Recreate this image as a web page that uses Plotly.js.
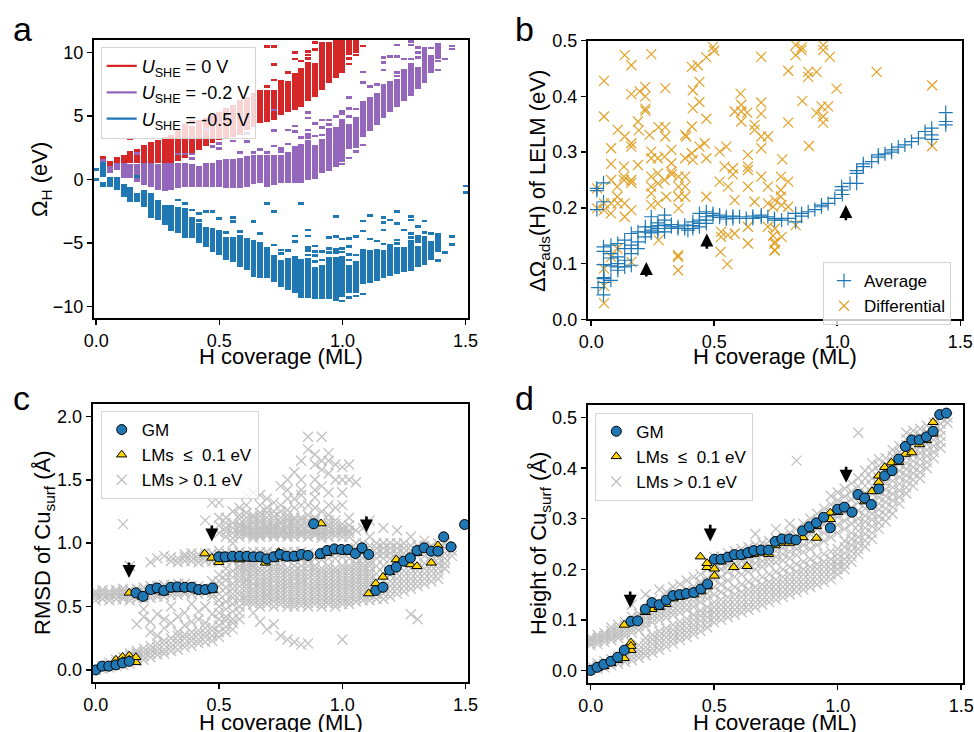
<!DOCTYPE html>
<html><head><meta charset="utf-8">
<script src="https://cdn.plot.ly/plotly-3.0.1.min.js"></script>
<style>html,body{margin:0;padding:0;background:#fff}#chart{width:974px;height:732px}</style>
</head><body><div id="chart"></div>
<script>
// ---------- Panel a : Omega_H distributions per H coverage column (coverage = k/36 ML) ----------
const cellSites = 36;
const redCols = [1,2,3,4,5,6,7,8,9,10,11,12,13,14,15,16,17,18,19,20,21,22,23,24,25,26,27,28,29,30,31,32,33,34,35,36,37,38];
const redLo = [1.6,1.06,1.2,1.22,1.27,1.33,1.33,1.33,1.33,1.33,1.33,1.48,1.67,1.93,2.32,2.64,2.9,3.1,3.24,3.37,3.5,3.9,4.1,4.42,4.55,4.68,5.07,5.33,5.47,5.73,6.17,6.51,7.04,7.56,7.96,8.61,9.79,9.97];
const redHi = [1.85,1.46,1.75,1.93,2.24,2.4,2.71,2.98,3.11,3.32,3.5,3.95,4.21,4.21,4.68,4.81,5.07,5.34,5.6,5.86,6.25,6.5,6.78,7.04,7.04,7.04,7.82,7.77,8.4,8.79,9.27,9.14,10.84,10.84,11,11,11,11];
const redDashK = [5,13,14,25,26,25,26,26,28,29,29,30,31,31,31,32,32,36,37,37,38,39];
const redDashY = [3.19,4.29,4.6,7.3,7.82,10.45,10.45,9.06,8.4,9.48,9.97,9.32,10.05,9.79,9.53,10.76,10.24,8.48,9.53,9.08,9.79,10.5];

const purCols = [1,2,3,4,5,6,7,8,9,10,11,12,13,14,15,16,17,18,19,20,21,22,23,24,25,26,27,28,29,30,31,32,33,34,35,36,37,38,39,40,41,42,43,44,45,46,47,48,49,50];
const purLo = [1.35,0.49,0.75,0.1,0.1,-0.17,-0.43,-0.56,-0.82,-0.88,-0.85,-0.7,-0.56,-0.56,-0.56,-0.56,-0.56,-0.56,-0.69,-0.69,-0.69,-0.56,-0.35,-0.3,-0.56,-0.43,-0.25,-0.25,-0.25,-0.25,-0.04,0.01,0.54,0.7,1.01,1.4,2.37,2.45,3.37,3.84,4.31,4.84,5.34,5.73,6.2,6.59,7.12,7.62,8.35,9.48];
const purHi = [1.6,1.06,1.27,1.27,1.22,1.22,1.27,1.27,1.22,1.33,1.33,1.27,1.27,1.22,1.1,1.33,1.33,1.53,1.6,1.6,1.67,1.85,1.93,1.93,1.93,1.93,1.93,2.19,2.64,2.79,3.11,2.71,3.19,4.02,4.1,4.73,4.37,4.89,6.17,6.46,6.83,7.51,7.75,7.88,8.69,9.14,8.82,10.39,9.82,10.76];
const purDashK = [6,12,13,14,14,16,17,18,18,20,21,22,22,23,23,24,25,26,26,26,27,27,28,28,29,29,30,31,31,31,31,31,32,32,33,33,33,34,34,35,36,36,36,37,37,37,37,38,38,39,39,39,40,41,42,42,42,43,44,44,44,44,45,46,46,46,47,47,47,48,49,50,50,51,52,52];
const purDashY = [2.06,2.0,2.0,2.0,1.67,3.95,2.58,2.84,2.45,3.03,2.11,2.98,3.63,2.11,1.8,2.37,2.11,2.64,3.84,5.47,2.45,2.2,3.89,2.79,4.21,3.76,3.32,3.89,3.55,3.32,5.26,4.84,4.42,3.42,4.1,3.5,4.68,4.68,4.31,4.94,5.15,5.34,1.22,4.94,5.6,6.44,1.69,5.55,2.19,7.6,8.45,2.71,7.3,7.48,8.61,9.19,9.58,9.66,8.4,8.14,9.66,10.58,9.48,9.48,10.58,10.84,9.61,9.97,10.37,9.82,10.34,9.32,8.61,9.48,10.5,10.26];

const bluCols = purCols;
const bluLo = [0.22,-0.56,-0.82,-1.35,-1.74,-1.74,-2.14,-3.05,-3.18,-3.58,-4.02,-4.23,-4.62,-4.62,-5.0,-5.28,-5.67,-5.94,-6.33,-6.46,-6.85,-7.11,-7.64,-7.77,-7.77,-8.03,-8.43,-8.69,-8.9,-9.29,-9.29,-9.42,-9.37,-9.42,-9.53,-9.26,-8.95,-8.9,-8.24,-8.11,-7.95,-7.74,-7.59,-7.43,-7.27,-7.17,-6.85,-6.72,-6.33,-5.46];
const bluHi = [1.4,0.22,0.22,-0.35,-0.56,-1.1,-0.82,-1.03,-1.61,-2.0,-2.0,-2.14,-2.27,-2.92,-3.44,-3.71,-3.84,-3.97,-4.5,-4.5,-4.36,-4.62,-4.75,-4.89,-5.28,-5.94,-6.33,-6.2,-6.0,-6.25,-6.14,-6.85,-6.72,-6.07,-6.07,-6.02,-6.72,-6.38,-5.49,-5.54,-5.46,-5.54,-5.07,-5.28,-5.28,-4.76,-5.23,-4.44,-4.84,-4.23];
const bluDashK = [0,0,1,1,6,12,13,13,14,15,15,16,17,18,19,20,20,21,23,24,25,26,26,27,27,28,29,29,30,31,31,31,31,31,32,32,32,32,33,33,34,34,34,35,35,35,35,36,36,36,36,37,37,37,37,37,38,38,38,39,39,39,40,40,41,42,42,42,42,43,44,44,44,44,45,46,46,46,46,47,47,47,47,48,48,49,50,50,51,52,52,54,54];
const bluDashY = [0.8,0.0,-0.3,-0.5,0.22,-1.61,-1.87,-2.53,-2.4,-3.24,-2.66,-2.53,-2.53,-3.05,-4.18,-3.31,-3.0,-4.1,-3.31,-4.23,-1.9,-5.15,-2.5,-5.8,-5.54,-5.6,-4.89,-4.44,-1.87,-3.97,-4.44,-5.36,-5.6,-5.94,-5.23,-5.67,-5.98,-6.46,-5.67,-6.33,-4.57,-5.41,-5.75,-2.92,-4.5,-5.49,-5.75,-4.68,-5.41,-5.7,-9.55,-4.62,-5.28,-5.9,-6.33,-9.29,-4.5,-5.93,-9.16,-3.26,-4.05,-9.0,-2.84,-4.68,-4.84,-5.07,-3.97,-3.39,-3.0,-3.18,-2.53,-3.47,-4.76,-5.02,-3.97,-2.92,-3.18,-4.23,-4.57,-3.71,-4.5,-4.7,-4.89,-3.26,-4.18,-4.26,-5.6,-6.38,-5.75,-4.5,-5.1,-0.51,-1.03];
const seriesNames = ['<i>U</i><sub>SHE</sub> = 0 V','<i>U</i><sub>SHE</sub> = -0.2 V','<i>U</i><sub>SHE</sub> = -0.5 V'];

// ---------- Panel b ----------
const avgCov = [0.023,0.023,0.023,0.05,0.05,0.028,0.05,0.05,0.05,0.05,0.05,0.052,0.052,0.08,0.08,0.08,0.08,0.08,0.108,0.108,0.108,0.108,0.108,0.136,0.136,0.136,0.136,0.163,0.163,0.163,0.163,0.19,0.19,0.19,0.22,0.22,0.22,0.244,0.244,0.244,0.244,0.271,0.271,0.271,0.271,0.298,0.298,0.298,0.298,0.298,0.326,0.326,0.353,0.353,0.38,0.38,0.393,0.413,0.413,0.413,0.44,0.44,0.44,0.44,0.468,0.468,0.468,0.468,0.495,0.495,0.522,0.522,0.549,0.549,0.576,0.576,0.603,0.63,0.657,0.657,0.691,0.691,0.718,0.745,0.745,0.774,0.8,0.831,0.831,0.855,0.855,0.882,0.909,0.936,0.936,0.963,0.99,1.018,1.018,1.021,1.052,1.079,1.079,1.079,1.106,1.106,1.14,1.167,1.167,1.194,1.221,1.221,1.248,1.275,1.302,1.33,1.357,1.384,1.384,1.384,1.441,1.441,1.441];
const avgVal = [0.235,0.231,0.197,0.245,0.211,0.057,0.13,0.122,0.098,0.073,0.044,0.066,0.075,0.133,0.118,0.096,0.07,0.11,0.136,0.112,0.088,0.1,0.094,0.142,0.127,0.106,0.094,0.154,0.133,0.118,0.097,0.157,0.139,0.127,0.148,0.157,0.166,0.184,0.166,0.155,0.16,0.173,0.163,0.157,0.168,0.178,0.169,0.157,0.187,0.163,0.166,0.17,0.166,0.163,0.169,0.163,0.16,0.175,0.163,0.168,0.19,0.178,0.166,0.172,0.184,0.172,0.193,0.178,0.19,0.186,0.187,0.183,0.184,0.18,0.181,0.185,0.184,0.181,0.181,0.185,0.187,0.183,0.184,0.181,0.178,0.178,0.181,0.175,0.19,0.19,0.185,0.193,0.197,0.202,0.205,0.208,0.217,0.232,0.238,0.224,0.244,0.244,0.267,0.262,0.274,0.279,0.283,0.291,0.295,0.297,0.304,0.3,0.309,0.313,0.319,0.325,0.337,0.343,0.331,0.323,0.371,0.355,0.349];
const diffCov = [0.136,0.244,0.163,0.052,0.052,0.163,0.197,0.22,0.22,0.22,0.22,0.301,0.19,0.108,0.136,0.163,0.163,0.193,0.237,0.274,0.301,0.301,0.081,0.081,0.133,0.133,0.133,0.163,0.163,0.19,0.081,0.106,0.106,0.081,0.052,0.052,0.024,0.08,0.108,0.136,0.136,0.163,0.244,0.244,0.244,0.244,0.244,0.244,0.271,0.271,0.271,0.271,0.298,0.298,0.305,0.326,0.326,0.326,0.355,0.355,0.355,0.355,0.382,0.382,0.382,0.382,0.382,0.409,0.409,0.409,0.433,0.468,0.495,0.5,0.413,0.44,0.44,0.468,0.413,0.386,0.44,0.413,0.468,0.468,0.522,0.522,0.542,0.549,0.576,0.576,0.556,0.583,0.528,0.528,0.556,0.583,0.526,0.553,0.637,0.637,0.637,0.61,0.61,0.61,0.583,0.634,0.664,0.664,0.691,0.691,0.691,0.691,0.718,0.691,0.718,0.691,0.607,0.637,0.664,0.718,0.739,0.745,0.745,0.637,0.637,0.718,0.739,0.461,0.327,0.353,0.353,0.353,0.274,0.163,0.052,0.052,0.052,0.081,0.106,0.024,0.831,0.855,0.831,0.855,0.943,0.943,0.97,0.801,0.882,0.882,0.916,0.997,1.16,0.858,0.936,0.963,0.916,0.943,0.943,0.801,0.885,0.777,0.771,0.801,0.771,0.771,0.747,0.774,0.801,0.747,0.774,0.747,0.747,0.831,1.386,1.386];
const diffVal = [0.474,0.476,0.456,0.428,0.364,0.404,0.409,0.417,0.4,0.378,0.374,0.415,0.355,0.34,0.328,0.316,0.31,0.339,0.331,0.345,0.345,0.328,0.307,0.279,0.274,0.256,0.25,0.25,0.245,0.277,0.25,0.238,0.22,0.208,0.208,0.196,0.199,0.19,0.208,0.208,0.184,0.196,0.301,0.289,0.256,0.238,0.226,0.205,0.289,0.262,0.244,0.208,0.292,0.25,0.22,0.304,0.28,0.265,0.256,0.238,0.22,0.199,0.256,0.238,0.22,0.331,0.289,0.453,0.346,0.298,0.456,0.47,0.489,0.482,0.411,0.426,0.39,0.36,0.379,0.328,0.31,0.286,0.289,0.22,0.301,0.247,0.274,0.31,0.271,0.26,0.238,0.214,0.157,0.148,0.151,0.154,0.121,0.099,0.295,0.274,0.268,0.373,0.355,0.385,0.373,0.371,0.349,0.34,0.389,0.369,0.328,0.307,0.328,0.256,0.238,0.471,0.405,0.238,0.211,0.208,0.202,0.124,0.136,0.136,0.166,0.166,0.15,0.316,0.26,0.112,0.088,0.115,0.142,0.103,0.091,0.029,0.06,0.112,0.127,0.235,0.492,0.488,0.474,0.483,0.492,0.483,0.471,0.446,0.444,0.435,0.444,0.414,0.444,0.392,0.382,0.382,0.37,0.364,0.353,0.353,0.311,0.287,0.256,0.247,0.232,0.22,0.214,0.205,0.202,0.163,0.148,0.139,0.124,0.169,0.42,0.311];
const bArrowCov = [0.224,0.47,1.035];
const bArrowFrom = [0.074,0.124,0.175];
const bArrowTo = [0.103,0.154,0.205];

// ---------- Panel c : RMSD ----------
const cGMcov = [0,0.026,0.053,0.082,0.109,0.136,0.163,0.192,0.222,0.249,0.276,0.305,0.332,0.361,0.39,0.418,0.444,0.474,0.499,0.525,0.555,0.584,0.613,0.64,0.667,0.694,0.722,0.748,0.775,0.805,0.834,0.861,0.884,0.911,0.938,0.968,0.996,1.023,1.053,1.08,1.107,1.136,1.165,1.192,1.219,1.249,1.276,1.303,1.332,1.361,1.388,1.411,1.441,1.496];
const cGMval = [0,0.03,0.03,0.04,0.055,0.068,0.608,0.58,0.634,0.647,0.626,0.652,0.655,0.652,0.652,0.634,0.634,0.647,0.892,0.892,0.897,0.897,0.897,0.892,0.892,0.876,0.892,0.911,0.897,0.897,0.911,0.903,1.153,0.918,0.942,0.955,0.95,0.95,0.918,0.963,0.911,0.626,0.652,0.787,0.811,0.858,0.884,0.942,0.963,0.937,0.937,1.05,0.971,1.147];
const cLMcov = [0.026,0.053,0.082,0.082,0.109,0.109,0.136,0.136,0.163,0.163,0.136,0.19,0.222,0.249,0.276,0.305,0.332,0.361,0.39,0.418,0.444,0.474,0.442,0.471,0.499,0.525,0.555,0.584,0.613,0.64,0.688,0.722,0.742,0.775,0.805,0.834,0.914,0.911,0.938,0.968,1.023,1.08,1.107,1.136,1.165,1.192,1.219,1.251,1.276,1.303,1.303,1.361,1.388,1.388];
const cLMval = [0.016,0.03,0.05,0.08,0.103,0.07,0.113,0.08,0.06,0.1,0.608,0.576,0.62,0.63,0.61,0.635,0.64,0.638,0.64,0.62,0.62,0.63,0.918,0.884,0.85,0.875,0.88,0.87,0.88,0.875,0.845,0.875,0.929,0.88,0.88,0.9,1.155,0.9,0.92,0.935,0.93,0.94,0.603,0.682,0.734,0.771,0.871,0.845,0.832,0.818,0.92,0.845,0.982,0.94];
// grey LMs > 0.1 eV, listed per coverage column k (coverage = k/36)
const cGreyCols = [
 [0.0,0.01,0.55,0.58,0.6,0.62],
 [0.01,0.03,0.56,0.59,0.61,0.63],
 [0.02,0.04,0.06,0.55,0.58,0.6,0.62],
 [0.03,0.06,0.08,0.56,0.59,0.61,0.63],
 [0.04,0.07,0.1,0.56,0.58,0.6,0.62,0.64,1.15],
 [0.05,0.08,0.11,0.13,0.55,0.58,0.6,0.63,0.82],
 [0.07,0.1,0.13,0.15,0.36,0.56,0.59,0.61,0.64],
 [0.08,0.11,0.14,0.17,0.42,0.48,0.57,0.6,0.62,0.65],
 [0.1,0.13,0.16,0.19,0.3,0.38,0.57,0.6,0.63,0.66,0.85],
 [0.12,0.15,0.18,0.21,0.27,0.44,0.58,0.6,0.63,0.66,0.88],
 [0.13,0.16,0.2,0.23,0.33,0.4,0.58,0.61,0.64,0.67,0.9],
 [0.15,0.18,0.21,0.25,0.37,0.5,0.59,0.62,0.65,0.67,0.86,0.89],
 [0.16,0.2,0.23,0.27,0.3,0.42,0.59,0.62,0.65,0.68,0.85,0.88],
 [0.18,0.21,0.25,0.28,0.35,0.45,0.6,0.62,0.65,0.68,0.86,0.89,0.91],
 [0.19,0.23,0.26,0.3,0.38,0.52,0.6,0.63,0.66,0.86,0.89,0.92],
 [0.21,0.24,0.28,0.31,0.4,0.46,0.6,0.63,0.66,0.85,0.88,0.91],
 [0.22,0.26,0.29,0.33,0.37,0.5,0.61,0.64,0.86,0.89,0.92,1.18],
 [0.23,0.27,0.31,0.34,0.44,0.58,0.61,0.64,0.7,0.86,0.89,0.92,1.32],
 [0.26,0.3,0.35,0.4,0.45,0.5,0.55,0.6,0.66,0.7,0.75,0.85,0.88,0.91,0.94,1.08,1.14,1.2,1.32],
 [0.3,0.34,0.39,0.42,0.48,0.54,0.6,0.65,0.71,0.75,0.8,0.86,0.89,0.92,1.05,1.09,1.12,1.16,1.2],
 [0.32,0.37,0.4,0.46,0.52,0.57,0.6,0.64,0.68,0.73,0.78,0.86,0.89,0.92,1.0,1.04,1.08,1.12,1.16,1.25],
 [0.4,0.45,0.5,0.55,0.59,0.62,0.66,0.7,0.73,0.76,0.79,0.82,0.87,0.9,0.93,1.05,1.08,1.1,1.13,1.15,1.19,1.22,1.28],
 [0.52,0.55,0.58,0.61,0.64,0.67,0.7,0.72,0.75,0.78,0.8,0.83,0.86,0.89,0.92,1.06,1.08,1.1,1.12,1.14,1.17,1.2,1.24,1.3,1.38],
 [0.45,0.52,0.55,0.58,0.61,0.64,0.68,0.72,0.75,0.78,0.81,0.83,0.87,0.9,0.93,1.04,1.06,1.08,1.1,1.12,1.15,1.17,1.2,1.22,1.4],
 [0.38,0.5,0.53,0.56,0.59,0.62,0.65,0.68,0.71,0.74,0.77,0.8,0.87,0.9,0.93,1.05,1.07,1.09,1.11,1.13,1.16,1.18,1.21,1.24,1.3,1.38],
 [0.32,0.52,0.55,0.58,0.6,0.63,0.66,0.69,0.72,0.75,0.78,0.82,0.87,0.9,0.93,1.06,1.08,1.1,1.12,1.14,1.17,1.2,1.24,1.28,1.35],
 [0.36,0.5,0.54,0.57,0.6,0.63,0.66,0.7,0.73,0.76,0.79,0.82,0.86,0.89,0.92,1.05,1.07,1.09,1.11,1.13,1.15,1.18,1.21,1.25,1.32],
 [0.27,0.52,0.55,0.58,0.61,0.64,0.67,0.7,0.73,0.76,0.79,0.82,0.86,0.89,0.92,1.06,1.08,1.1,1.12,1.15,1.17,1.2,1.25,1.3,1.45],
 [0.24,0.5,0.53,0.56,0.59,0.62,0.65,0.68,0.71,0.74,0.77,0.8,0.87,0.9,0.93,1.05,1.07,1.09,1.12,1.14,1.17,1.19,1.22,1.26,1.35,1.42,1.5],
 [0.22,0.5,0.53,0.56,0.59,0.62,0.65,0.68,0.72,0.75,0.78,0.82,0.87,0.9,0.93,1.05,1.08,1.1,1.13,1.15,1.18,1.2,1.28,1.35,1.56],
 [0.2,0.51,0.54,0.57,0.6,0.63,0.66,0.69,0.72,0.75,0.78,0.82,0.87,0.9,0.93,1.06,1.08,1.1,1.13,1.15,1.18,1.2,1.3,1.38,1.42,1.5,1.65],
 [0.21,0.5,0.53,0.56,0.59,0.62,0.65,0.68,0.72,0.75,0.78,0.82,0.86,0.89,0.92,1.05,1.08,1.1,1.13,1.15,1.18,1.22,1.3,1.74,1.84],
 [0.52,0.55,0.58,0.61,0.64,0.67,0.7,0.73,0.76,0.79,0.82,0.88,0.91,1.06,1.08,1.1,1.13,1.15,1.18,1.2,1.28,1.36,1.42,1.5,1.62,1.7],
 [0.5,0.53,0.56,0.59,0.62,0.65,0.68,0.71,0.74,0.77,0.8,0.87,0.9,1.04,1.06,1.08,1.1,1.12,1.15,1.17,1.25,1.45,1.58,1.65,1.84],
 [0.52,0.55,0.58,0.61,0.64,0.67,0.7,0.73,0.76,0.79,0.82,0.88,0.92,1.05,1.08,1.1,1.13,1.15,1.18,1.22,1.3,1.4,1.55,1.65,1.71],
 [0.5,0.53,0.56,0.59,0.62,0.65,0.68,0.71,0.74,0.77,0.8,0.88,0.92,1.06,1.09,1.12,1.15,1.18,1.28,1.5,1.62],
 [0.24,0.52,0.55,0.58,0.61,0.64,0.67,0.7,0.73,0.76,0.79,0.82,0.89,0.93,1.05,1.08,1.1,1.12,1.15,1.3,1.4,1.5,1.6],
 [0.52,0.55,0.58,0.61,0.64,0.67,0.7,0.73,0.76,0.79,0.82,0.88,0.92,1.05,1.08,1.1,1.14,1.2,1.5,1.62],
 [0.54,0.57,0.6,0.63,0.66,0.69,0.72,0.75,0.78,0.81,0.84,0.88,0.92,0.96,1.0,1.1,1.48],
 [0.55,0.58,0.6,0.63,0.66,0.69,0.72,0.75,0.78,0.81,0.84,0.88,0.92,0.96,1.0,1.12],
 [0.55,0.58,0.6,0.63,0.66,0.69,0.72,0.75,0.78,0.82,0.85,0.9,0.94,0.98,1.05,1.18],
 [0.56,0.6,0.65,0.7,0.76,0.82,0.88,0.92,0.96,1.0],
 [0.56,0.6,0.65,0.7,0.76,0.82,0.88,0.92,0.96,1.0,1.12],
 [0.58,0.62,0.66,0.7,0.75,0.88,0.92,0.96,1.0],
 [0.6,0.64,0.68,0.72,0.76,0.88,0.92,0.96,1.0,1.1],
 [0.62,0.66,0.7,0.74,0.78,0.88,0.92,0.96,1.0],
 [0.44,0.64,0.68,0.72,0.76,0.8,0.9,0.94,0.98,1.05],
 [0.4,0.66,0.7,0.74,0.78,0.82,0.9,0.94,0.98],
 [0.68,0.72,0.76,0.8,0.84,0.9,0.94,0.98,1.02],
 [0.7,0.74,0.78,0.82,0.86,0.9,0.94,0.98],
 [0.72,0.76,0.8,0.84,0.88,0.92,0.96,1.0],
 [0.8,0.84,0.88,0.92,0.96,1.0],
 [0.9,0.94]
];
const cArrowCov = [0.135,0.471,1.098];
const cArrowFrom = [0.86,1.152,1.223];
const cArrowTo = [0.726,1.013,1.084];

// ---------- Panel d : height ----------
const dGMcov = [0,0.026,0.053,0.082,0.109,0.136,0.163,0.19,0.221,0.248,0.278,0.306,0.333,0.36,0.387,0.417,0.446,0.473,0.501,0.528,0.555,0.582,0.609,0.636,0.66,0.69,0.72,0.747,0.774,0.804,0.831,0.858,0.885,0.914,0.943,0.97,1.0,1.027,1.058,1.082,1.109,1.136,1.166,1.19,1.22,1.247,1.274,1.3,1.33,1.359,1.386,1.413,1.44];
const dGMval = [0,0.006,0.012,0.018,0.026,0.04,0.097,0.098,0.121,0.134,0.13,0.139,0.148,0.15,0.152,0.154,0.161,0.171,0.22,0.22,0.224,0.229,0.229,0.233,0.237,0.238,0.238,0.255,0.26,0.26,0.258,0.276,0.284,0.292,0.303,0.282,0.319,0.323,0.313,0.348,0.341,0.328,0.359,0.385,0.395,0.418,0.443,0.456,0.456,0.462,0.473,0.506,0.509];
const dLMcov = [0.026,0.053,0.082,0.109,0.136,0.163,0.163,0.163,0.136,0.221,0.248,0.278,0.305,0.333,0.36,0.417,0.446,0.473,0.444,0.471,0.471,0.501,0.501,0.528,0.555,0.579,0.609,0.633,0.636,0.66,0.69,0.72,0.747,0.774,0.804,0.859,0.885,0.914,0.914,0.97,0.97,1.0,1.109,1.139,1.166,1.166,1.19,1.217,1.247,1.274,1.3,1.331,1.359,1.386,1.386];
const dLMval = [0.004,0.008,0.014,0.02,0.024,0.04,0.055,0.048,0.09,0.115,0.121,0.125,0.131,0.142,0.145,0.15,0.156,0.166,0.225,0.204,0.212,0.187,0.201,0.215,0.22,0.204,0.225,0.206,0.228,0.23,0.233,0.23,0.247,0.252,0.252,0.263,0.278,0.262,0.285,0.299,0.312,0.313,0.334,0.354,0.372,0.385,0.402,0.411,0.412,0.428,0.431,0.447,0.455,0.491,0.468];
const dGreyCols = [
 [0.0,0.005,0.01,0.05,0.055,0.06,0.065],
 [0.003,0.008,0.014,0.052,0.058,0.064,0.07],
 [0.006,0.012,0.018,0.056,0.062,0.068,0.074],
 [0.01,0.016,0.022,0.06,0.066,0.072,0.078,0.085],
 [0.013,0.02,0.027,0.064,0.07,0.076,0.083,0.09],
 [0.017,0.024,0.031,0.068,0.075,0.082,0.089,0.096],
 [0.02,0.028,0.036,0.045,0.075,0.082,0.09,0.098,0.106,0.13],
 [0.025,0.033,0.041,0.05,0.08,0.088,0.096,0.104,0.112],
 [0.03,0.038,0.046,0.055,0.064,0.087,0.095,0.103,0.111,0.12,0.15],
 [0.035,0.043,0.052,0.061,0.07,0.095,0.103,0.111,0.119,0.128,0.14],
 [0.041,0.05,0.059,0.068,0.077,0.1,0.108,0.116,0.124,0.133,0.16],
 [0.047,0.056,0.065,0.074,0.083,0.105,0.113,0.121,0.13,0.14,0.155],
 [0.053,0.062,0.071,0.08,0.09,0.11,0.118,0.127,0.136,0.146,0.165],
 [0.06,0.069,0.078,0.087,0.096,0.115,0.124,0.133,0.142,0.152,0.17],
 [0.066,0.075,0.084,0.093,0.102,0.12,0.13,0.14,0.15,0.16,0.178],
 [0.072,0.081,0.09,0.1,0.11,0.126,0.136,0.146,0.156,0.166,0.185],
 [0.078,0.088,0.098,0.108,0.118,0.135,0.145,0.155,0.165,0.175,0.19],
 [0.085,0.095,0.105,0.115,0.125,0.142,0.152,0.162,0.172,0.182,0.2,0.215],
 [0.095,0.105,0.115,0.125,0.135,0.15,0.165,0.18,0.195,0.21,0.225],
 [0.1,0.11,0.12,0.13,0.14,0.155,0.17,0.185,0.2,0.212,0.225],
 [0.105,0.115,0.125,0.135,0.145,0.16,0.178,0.195,0.208,0.22,0.232],
 [0.11,0.12,0.13,0.14,0.15,0.165,0.185,0.2,0.212,0.224,0.236],
 [0.115,0.125,0.135,0.145,0.155,0.17,0.19,0.205,0.216,0.228,0.24],
 [0.12,0.13,0.14,0.15,0.16,0.175,0.195,0.208,0.22,0.232,0.244],
 [0.125,0.135,0.145,0.155,0.165,0.18,0.2,0.212,0.224,0.236,0.248,0.27],
 [0.13,0.14,0.15,0.16,0.17,0.185,0.205,0.216,0.228,0.24,0.252],
 [0.135,0.145,0.155,0.165,0.175,0.19,0.21,0.22,0.232,0.244,0.256],
 [0.14,0.15,0.16,0.17,0.18,0.195,0.214,0.225,0.236,0.248,0.26,0.28],
 [0.145,0.155,0.165,0.175,0.185,0.2,0.218,0.23,0.242,0.254,0.266],
 [0.15,0.16,0.17,0.18,0.19,0.205,0.222,0.235,0.248,0.26,0.272,0.29],
 [0.155,0.165,0.175,0.185,0.195,0.21,0.228,0.24,0.253,0.266,0.28,0.415],
 [0.16,0.17,0.18,0.19,0.2,0.215,0.234,0.248,0.262,0.276,0.29],
 [0.165,0.175,0.185,0.195,0.205,0.22,0.24,0.255,0.27,0.285,0.3],
 [0.17,0.18,0.19,0.2,0.21,0.225,0.248,0.264,0.28,0.295,0.31],
 [0.175,0.185,0.195,0.205,0.215,0.23,0.256,0.272,0.288,0.304,0.32],
 [0.18,0.19,0.2,0.21,0.22,0.235,0.264,0.28,0.296,0.312,0.328,0.345],
 [0.19,0.2,0.21,0.22,0.23,0.24,0.272,0.288,0.304,0.32,0.336,0.352],
 [0.2,0.21,0.22,0.232,0.244,0.256,0.28,0.296,0.312,0.328,0.344,0.36],
 [0.215,0.225,0.236,0.248,0.26,0.272,0.29,0.306,0.322,0.338,0.354,0.37],
 [0.23,0.24,0.252,0.264,0.276,0.288,0.3,0.316,0.332,0.348,0.364,0.38,0.47],
 [0.245,0.257,0.27,0.282,0.294,0.306,0.32,0.335,0.35,0.365,0.38,0.395],
 [0.26,0.272,0.285,0.298,0.31,0.322,0.335,0.35,0.365,0.38,0.395,0.41],
 [0.28,0.292,0.305,0.318,0.33,0.342,0.355,0.368,0.38,0.393,0.405,0.418],
 [0.295,0.308,0.32,0.333,0.345,0.358,0.37,0.383,0.395,0.408,0.42],
 [0.31,0.323,0.336,0.349,0.362,0.375,0.388,0.4,0.412,0.424,0.436],
 [0.33,0.343,0.356,0.369,0.382,0.395,0.408,0.42,0.432,0.444],
 [0.35,0.362,0.374,0.386,0.398,0.41,0.422,0.434,0.446,0.458,0.47],
 [0.365,0.377,0.39,0.402,0.414,0.426,0.438,0.45,0.462,0.474],
 [0.38,0.392,0.405,0.418,0.43,0.442,0.454,0.466,0.478],
 [0.4,0.412,0.424,0.436,0.448,0.46,0.472,0.484],
 [0.42,0.432,0.444,0.456,0.468,0.48,0.49],
 [0.44,0.452,0.464,0.476,0.488,0.5],
 [0.49,0.5]
];
const dArrowCov = [0.16,0.484,1.034];
const dArrowFrom = [0.159,0.291,0.406];
const dArrowTo = [0.124,0.255,0.371];

// ---------- text ----------
const xTitle = 'H coverage (ML)';
const yTitles = ['Ω<sub>H</sub> (eV)', 'ΔΩ<sub>ads</sub>(H) of LELM (eV)', 'RMSD of Cu<sub>surf</sub> (Å)', 'Height of Cu<sub>surf</sub> (Å)'];
const panelLetters = ['a','b','c','d'];

// ---------- styling ----------
const FONT = 'Liberation Sans, Arial, sans-serif';
const RED = '#d62728', PURPLE = '#9467bd', BLUE = '#1f77b4', ORANGE = '#e2a127', GOLD = '#ffd400', GREY = '#c0c0c0';
const colW = 0.024, dashH = 0.22;

function barTrace(cols, lo, hi, color){
  return {type:'bar', x:cols.map(k=>k/cellSites), y:hi.map((h,i)=>h-lo[i]), base:lo, width:colW,
    marker:{color:color, line:{width:0}}, xaxis:'x', yaxis:'y', showlegend:false, hoverinfo:'skip'};
}
function dashTrace(ks, ys, color){
  return {type:'bar', x:ks.map(k=>k/cellSites), y:ys.map(()=>dashH), base:ys.map(v=>v-dashH/2), width:colW,
    marker:{color:color, line:{width:0}}, xaxis:'x', yaxis:'y', showlegend:false, hoverinfo:'skip'};
}
function legendLine(name, color){
  return {type:'scatter', mode:'lines', x:[null], y:[null], name:name, line:{color:color, width:2.2}, xaxis:'x', yaxis:'y', legend:'legend'};
}
function flatten(cols){
  const xs=[], ys=[];
  cols.forEach((vals,k)=>vals.forEach(v=>{xs.push(k/cellSites); ys.push(v);}));
  return [xs, ys];
}
const [cgx, cgy] = flatten(cGreyCols);
const [dgx, dgy] = flatten(dGreyCols);

function panelCD(xa, ya, leg, gx, gy, lmx, lmy, gmx, gmy){
  return [
    {type:'scatter', mode:'markers', x:gx, y:gy, xaxis:xa, yaxis:ya, legend:leg, name:'LMs &gt; 0.1 eV', legendrank:3,
      marker:{symbol:'x-thin-open', size:10, color:GREY, line:{color:GREY, width:1.3}}, hoverinfo:'skip'},
    {type:'scatter', mode:'markers', x:lmx, y:lmy, xaxis:xa, yaxis:ya, legend:leg, name:'LMs  ≤  0.1 eV', legendrank:2,
      marker:{symbol:'triangle-up', size:9, color:GOLD, line:{color:'#000', width:1}}, hoverinfo:'skip'},
    {type:'scatter', mode:'markers', x:gmx, y:gmy, xaxis:xa, yaxis:ya, legend:leg, name:'GM', legendrank:1,
      marker:{symbol:'circle', size:10, color:BLUE, line:{color:'#000', width:1}}, hoverinfo:'skip'}
  ];
}

const data = [
  barTrace(redCols, redLo, redHi, RED), dashTrace(redDashK, redDashY, RED),
  barTrace(purCols, purLo, purHi, PURPLE), dashTrace(purDashK, purDashY, PURPLE),
  barTrace(bluCols, bluLo, bluHi, BLUE), dashTrace(bluDashK, bluDashY, BLUE),
  legendLine(seriesNames[0], RED), legendLine(seriesNames[1], PURPLE), legendLine(seriesNames[2], BLUE),
  {type:'scatter', mode:'markers', x:diffCov, y:diffVal, xaxis:'x2', yaxis:'y2', legend:'legend2', name:'Differential', legendrank:2,
    marker:{symbol:'x-thin-open', size:10, color:ORANGE, line:{color:ORANGE, width:1.2}}, hoverinfo:'skip'},
  {type:'scatter', mode:'markers', x:avgCov, y:avgVal, xaxis:'x2', yaxis:'y2', legend:'legend2', name:'Average', legendrank:1,
    marker:{symbol:'cross-thin-open', size:10, color:BLUE, line:{color:BLUE, width:1.2}}, hoverinfo:'skip'},
  ...panelCD('x3','y3','legend3', cgx, cgy, cLMcov, cLMval, cGMcov, cGMval),
  ...panelCD('x4','y4','legend4', dgx, dgy, dLMcov, dLMval, dGMcov, dGMval)
];

function axis(domain, range, anchor, dtick, fmt){
  return {domain:domain, range:range, anchor:anchor, tick0:0, dtick:dtick, tickformat:fmt,
    showline:true, linecolor:'#000', linewidth:2, mirror:true, ticks:'outside', ticklen:5, tickwidth:1.5, tickcolor:'#000',
    showgrid:false, zeroline:false, automargin:false, fixedrange:true,
    tickfont:{family:FONT, size:18, color:'#000'}};
}
const legendBase = {bgcolor:'rgba(255,255,255,0.8)', bordercolor:'#d4d4d4', borderwidth:1, font:{family:FONT, size:17, color:'#000'}, xanchor:'left', yanchor:'top', traceorder:'normal'};

function arrows(xa, ya, xs, from, to){
  return xs.map((x,i)=>({x:x, y:to[i], ax:x, ay:from[i], xref:xa, yref:ya, axref:xa, ayref:ya, text:'', showarrow:true,
    arrowhead:2, arrowsize:1, arrowwidth:2.6, arrowcolor:'#000', standoff:0, startstandoff:0}));
}
function paperText(t, xpx, ypx, size, angle, xanchor){
  return {text:t, x:xpx/974, y:1-ypx/732, xref:'paper', yref:'paper', xanchor:xanchor||'center', yanchor:'middle',
    textangle:angle||0, showarrow:false, font:{family:FONT, size:size, color:'#000'}};
}

const layout = {
  width:974, height:732, margin:{l:0, r:0, t:0, b:0}, paper_bgcolor:'#fff', plot_bgcolor:'#fff',
  barmode:'overlay', bargap:0, font:{family:FONT, color:'#000'},
  xaxis: axis([0.0965,0.4805], [-0.009,1.51], 'y', 0.5, '.1f'),
  yaxis: axis([0.5652,0.9454], [-10.91,10.97], 'x', 5, 'd'),
  xaxis2: axis([0.6037,0.9874], [-0.013,1.506], 'y2', 0.5, '.1f'),
  yaxis2: axis([0.5638,0.9444], [0,0.5], 'x2', 0.1, '.1f'),
  xaxis3: axis([0.0952,0.4808], [-0.012,1.511], 'y3', 0.5, '.1f'),
  yaxis3: axis([0.0683,0.4485], [-0.095,2.10], 'x3', 0.5, '.1f'),
  xaxis4: axis([0.6034,0.9884], [-0.012,1.506], 'y4', 0.5, '.1f'),
  yaxis4: axis([0.0669,0.4467], [-0.025,0.525], 'x4', 0.1, '.1f'),
  legend: Object.assign({}, legendBase, {x:0.1034, y:0.9362, font:{family:FONT, size:18, color:'#000'}}),
  legend2: Object.assign({}, legendBase, {x:0.845, y:0.642}),
  legend3: Object.assign({}, legendBase, {x:0.1034, y:0.4385}),
  legend4: Object.assign({}, legendBase, {x:0.6112, y:0.4362}),
  annotations: [
    paperText(panelLetters[0], 11, 29, 34, 0, 'left'), paperText(panelLetters[1], 513, 29, 34, 0, 'left'),
    paperText(panelLetters[2], 11, 398, 34, 0, 'left'), paperText(panelLetters[3], 513, 398, 34, 0, 'left'),
    paperText(xTitle, 281, 357, 22), paperText(xTitle, 775, 357, 22),
    paperText(xTitle, 281, 722, 22), paperText(xTitle, 775, 722, 22),
    paperText(yTitles[0], 41, 180, 22, -90), paperText(yTitles[1], 539, 181, 22, -90),
    paperText(yTitles[2], 44, 543, 22, -90), paperText(yTitles[3], 540, 544, 22, -90),
    ...arrows('x2','y2', bArrowCov, bArrowFrom, bArrowTo),
    ...arrows('x3','y3', cArrowCov, cArrowFrom, cArrowTo),
    ...arrows('x4','y4', dArrowCov, dArrowFrom, dArrowTo)
  ]
};
Plotly.newPlot('chart', data, layout, {staticPlot:true, displayModeBar:false});
</script></body></html>
